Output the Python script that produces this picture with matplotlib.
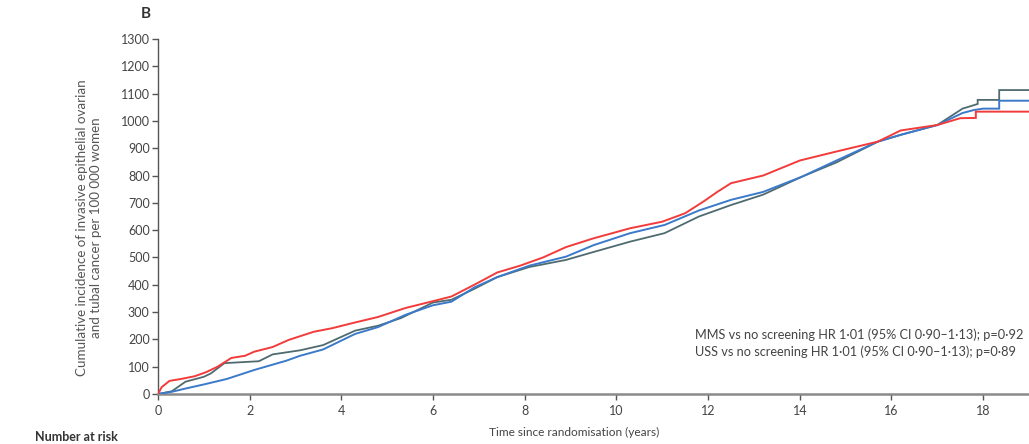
import matplotlib
matplotlib.use("Agg")
import matplotlib.pyplot as plt

plt.rcParams['font.family'] = ['Lato', 'DejaVu Sans']

# ---- data ----
red_t = [0, 0.08, 0.25, 0.5, 0.8, 1.05, 1.3, 1.6, 1.9, 2.1, 2.5, 2.85, 3.4, 3.8, 4.3, 4.8,
         5.4, 6.0, 6.4, 6.9, 7.4, 7.9, 8.4, 8.9, 9.5, 10.3, 11.0, 11.5, 11.9, 12.2, 12.5,
         13.2, 14.0, 14.8, 15.7, 16.2, 17.0, 17.5, 17.84, 17.84, 19.1]
red_v = [0, 25, 48, 55, 65, 80, 100, 132, 140, 155, 172, 198, 228, 241, 262, 282,
         315, 340, 357, 400, 445, 470, 500, 538, 570, 607, 631, 662, 705, 740, 772,
         800, 855, 888, 924, 965, 985, 1010, 1011, 1034, 1034]

blue_t = [0, 0.3, 0.6, 1.0, 1.5, 2.1, 2.8, 3.1, 3.6, 4.3, 4.8, 5.4, 6.0, 6.4, 6.9, 7.4,
          8.1, 8.9, 9.5, 10.3, 11.05, 11.8, 12.5, 13.2, 14.05, 14.8, 15.7, 16.2, 17.0,
          17.55, 17.8, 18.0, 18.35, 18.35, 19.1]
blue_v = [0, 8, 20, 35, 55, 88, 122, 140, 163, 220, 245, 290, 325, 338, 390, 428,
          470, 503, 545, 589, 619, 672, 711, 740, 796, 855, 924, 949, 985,
          1029, 1040, 1045, 1045, 1074, 1074]

gray_t = [0, 0.3, 0.6, 1.0, 1.15, 1.45, 2.2, 2.5, 3.1, 3.6, 4.3, 4.8, 5.3, 6.0, 6.4, 6.9,
          7.4, 8.1, 8.9, 9.5, 10.3, 11.05, 11.8, 12.5, 13.2, 14.05, 14.8, 15.7, 16.2,
          17.0, 17.55, 17.88, 17.88, 18.35, 18.35, 19.1]
gray_v = [0, 10, 45, 63, 75, 113, 120, 145, 160, 179, 232, 250, 278, 335, 345, 385,
          428, 465, 491, 520, 558, 589, 650, 692, 730, 796, 848, 924, 949,
          985, 1045, 1062, 1077, 1077, 1113, 1113]

y_ticks = list(range(0, 1301, 100))
x_ticks = list(range(0, 19, 2))

annot_lines = ["MMS vs no screening HR 1\u00b701 (95% CI 0\u00b790\u20131\u00b713); p=0\u00b792",
               "USS vs no screening HR 1\u00b701 (95% CI 0\u00b790\u20131\u00b713); p=0\u00b789"]

W, H = 1029, 444
fig = plt.figure(figsize=(W / 100, H / 100), dpi=100)
ax = fig.add_axes([158 / W, 50 / H, (W - 158) / W, 355 / H])

ax.plot(gray_t, gray_v, color='#4f6b70', lw=1.3, solid_joinstyle='miter', zorder=3)
ax.plot(blue_t, blue_v, color='#3b79c9', lw=1.4, solid_joinstyle='miter', zorder=4)
ax.plot(red_t, red_v, color='#f23b3b', lw=1.4, solid_joinstyle='miter', zorder=5)

ax.set_xlim(0, 19.0)
ax.set_ylim(0, 1300)
ax.set_yticks(y_ticks)
ax.set_xticks(x_ticks)
ax.tick_params(axis='both', direction='out', length=4, width=1, colors='#555555',
               labelsize=9, labelcolor='#444444', pad=2)
ax.tick_params(axis='x', pad=4)
for s in ['top', 'right']:
    ax.spines[s].set_visible(False)
ax.spines['left'].set_color('#555555')
ax.spines['left'].set_linewidth(1.0)
ax.spines['bottom'].set_color('#8a8a8a')
ax.spines['bottom'].set_linewidth(1.8)

fig.text(89 / W, 1 - 228 / H,
         "Cumulative incidence of invasive epithelial ovarian\nand tubal cancer per 100 000 women",
         rotation=90, ha='center', va='center', fontsize=9.6, color='#555555',
         linespacing=1.25)
fig.text(574 / W, 1 - 432 / H, "Time since randomisation (years)", ha='center', va='center',
         fontsize=8.6, color='#444444')
fig.text(146 / W, 1 - 14 / H, "B", ha='center', va='center', fontsize=11,
         fontweight='bold', color='#333333')
fig.text(35 / W, 1 - 443 / H, "Number at risk", ha='left', va='bottom', fontsize=9,
         fontweight='bold', color='#333333')

for i, line in enumerate(annot_lines):
    fig.text(695 / W, 1 - (335 + 17 * i) / H, line, ha='left', va='center',
             fontsize=9.2, color='#444444')

fig.savefig("out.png", dpi=100)
